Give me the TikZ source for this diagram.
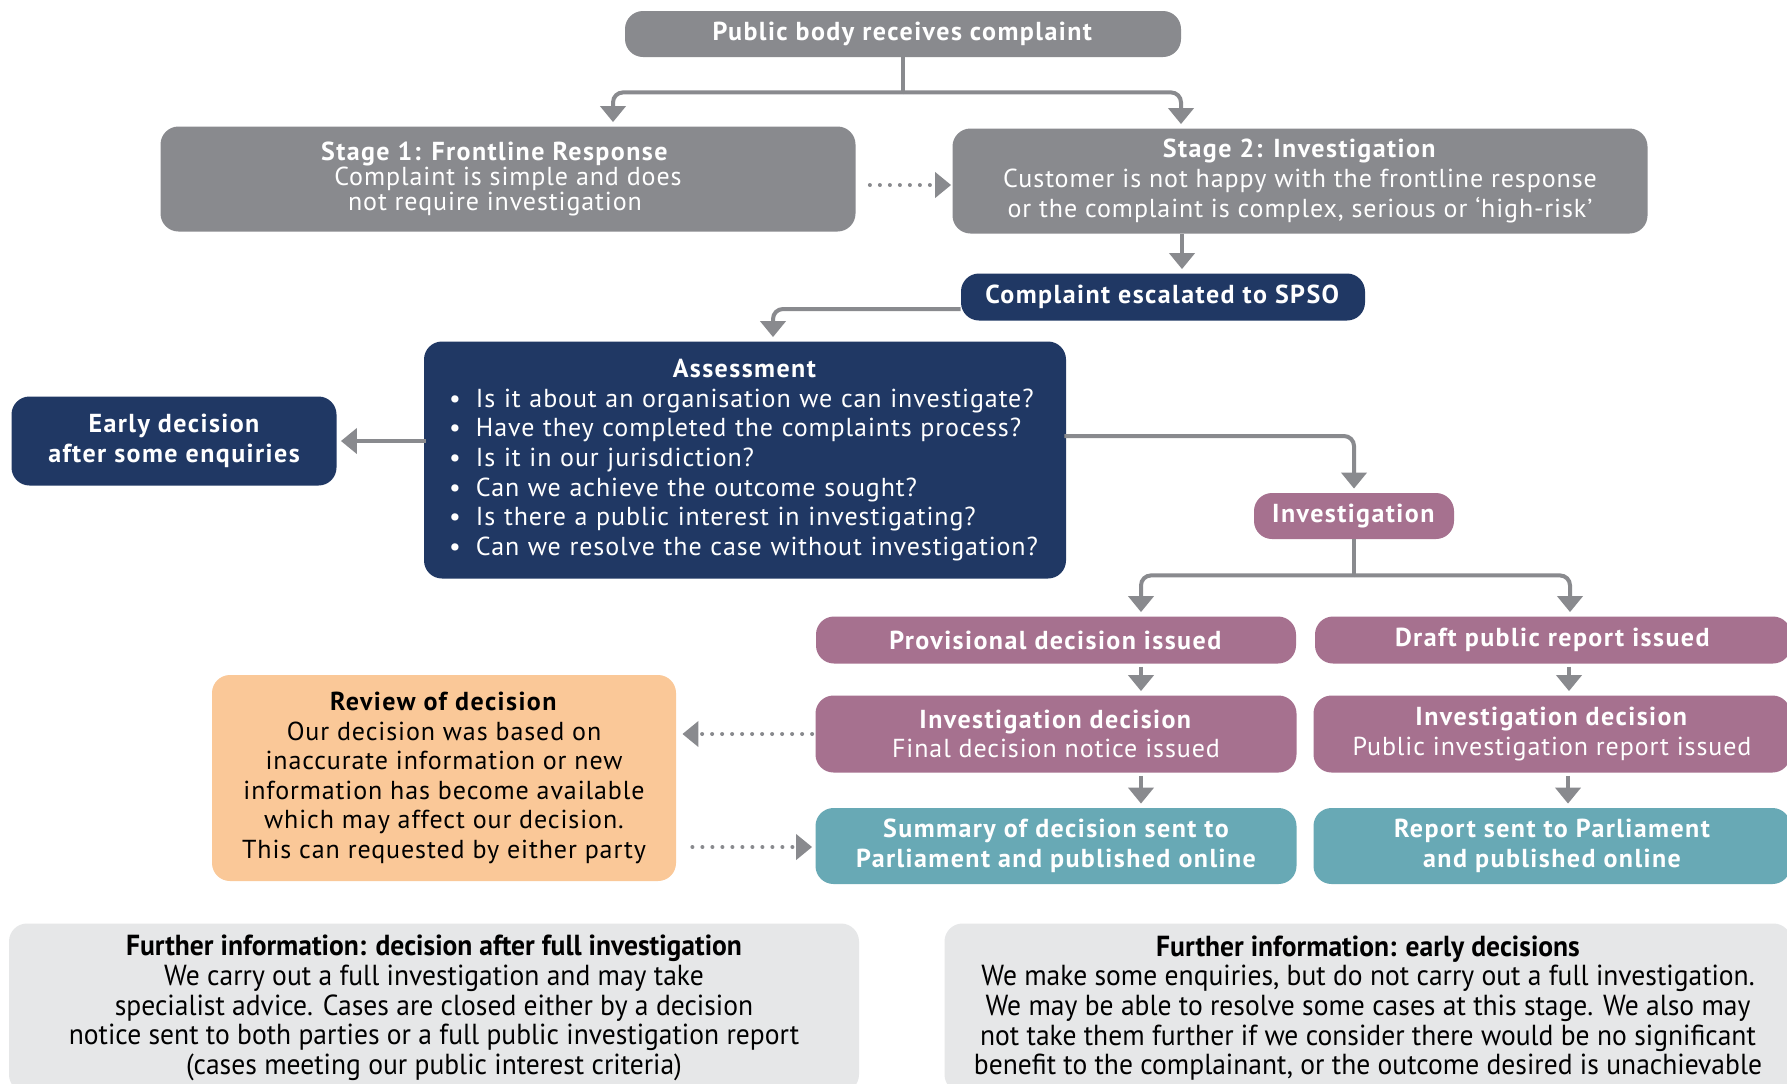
\documentclass[tikz,border=0pt]{standalone}
\usepackage{fontspec}
\setmainfont{PT Sans}[LetterSpace=3.5, BoldFeatures={LetterSpace=5.5}]
\newfontfamily\narrowfont{PT Sans}[FakeStretch=0.95]
\usetikzlibrary{arrows.meta,shapes}
\definecolor{boxgray}{RGB}{137,138,142}
\definecolor{spsoblue}{RGB}{32,56,100}
\definecolor{mauve}{RGB}{166,113,143}
\definecolor{sumteal}{RGB}{104,169,181}
\definecolor{peach}{RGB}{250,200,152}
\definecolor{infogray}{RGB}{230,231,232}
\definecolor{arrowgray}{RGB}{137,138,142}
\tikzstyle{box}=[rounded corners=9pt, inner sep=0pt, align=center, text=white, font=\fontsize{13}{14.8}\selectfont]
\tikzstyle{graybox}=[box, fill=boxgray]
\tikzstyle{bluebox}=[box, fill=spsoblue]
\tikzstyle{mauvebox}=[box, fill=mauve]
\tikzstyle{tealbox}=[box, fill=sumteal]
\tikzstyle{reviewbox}=[box, fill=peach, text=black]
\tikzstyle{infobox}=[box, fill=infogray, text=black, font=\narrowfont\fontsize{14.5}{14.8}\selectfont]
\tikzstyle{edge}=[draw, arrowgray, line width=2pt, rounded corners=5pt, -{Triangle[width=12.5pt,length=8pt]}, shorten >=2pt]
\tikzstyle{trunk}=[draw, arrowgray, line width=2pt]
\tikzstyle{dotedge}=[edge, line cap=round, dash pattern=on 0pt off 5pt]

\begin{document}
\begin{tikzpicture}[x=0.5pt, y=-0.5pt]

    \path[use as bounding box, fill=white] (0,0) rectangle (1787,1083);
    \clip (0,0) rectangle (1787,1083);

    % complaint handling at the public body
    \node[graybox, minimum width=278pt, minimum height=23pt] (top) at (903,34) {\textbf{Public body receives complaint}};
    \node[graybox, minimum width=347.5pt, minimum height=52.5pt, font=\fontsize{13}{12.5}\selectfont] (s1) at (508,179)
        {\textbf{Stage 1: Frontline Response}\hspace*{13pt}\\Complaint is simple and does\hspace*{13pt}\\not require investigation\hspace*{13pt}};
    \node[graybox, minimum width=347.5pt, minimum height=52.5pt] (s2) at (1300,181)
        {\textbf{Stage 2: Investigation}\\Customer is not happy with the frontline response\\or the complaint is complex, serious or ‘high-risk’};

    % SPSO
    \node[bluebox, minimum width=202pt, minimum height=23.5pt] (spso) at (1163,297) {\textbf{Complaint escalated to SPSO}};
    \node[bluebox, minimum width=321pt, minimum height=118.5pt, text width=296pt, align=left] (assess) at (745,460)
        {\makebox[\linewidth]{\textbf{Assessment}}\\
         \makebox[13.5pt][l]{\textbullet}Is it about an organisation we can investigate?\\
         \makebox[13.5pt][l]{\textbullet}Have they completed the complaints process?\\
         \makebox[13.5pt][l]{\textbullet}Is it in our jurisdiction?\\
         \makebox[13.5pt][l]{\textbullet}Can we achieve the outcome sought?\\
         \makebox[13.5pt][l]{\textbullet}Is there a public interest in investigating?\\
         \makebox[13.5pt][l]{\textbullet}Can we resolve the case without investigation?};
    \node[bluebox, minimum width=162.5pt, minimum height=44.5pt, font=\fontsize{13}{14.8}\selectfont\bfseries] (early) at (174,441)
        {Early decision\\after some enquiries};

    % investigation
    \node[mauvebox, minimum width=100pt, minimum height=23pt] (inv) at (1354,516) {\textbf{Investigation}};
    \node[mauvebox, minimum width=240pt, minimum height=23.5pt] (prov) at (1056,640) {\textbf{Provisional decision issued}};
    \node[mauvebox, minimum width=238pt, minimum height=23.5pt] (draft) at (1553,640) {\textbf{Draft public report issued}};
    \node[mauvebox, minimum width=240.5pt, minimum height=38.5pt] (idec1) at (1056,734)
        {\textbf{Investigation decision}\\Final decision notice issued};
    \node[mauvebox, minimum width=238.5pt, minimum height=38.5pt] (idec2) at (1552,734)
        {\textbf{Investigation decision}\\Public investigation report issued};
    \node[tealbox, minimum width=240.5pt, minimum height=38pt, font=\fontsize{13}{14.8}\selectfont\bfseries] (sum1) at (1056,846)
        {Summary of decision sent to\\Parliament and published online};
    \node[tealbox, minimum width=238.5pt, minimum height=38pt, font=\fontsize{13}{14.8}\selectfont\bfseries] (sum2) at (1552,846)
        {Report sent to Parliament\\and published online};

    \node[reviewbox, minimum width=232pt, minimum height=103pt] (review) at (444,778)
        {\textbf{Review of decision}\\Our decision was based on\\inaccurate information or new\\information has become available\\which may affect our decision.\\This can requested by either party};

    % further information
    \node[infobox, minimum width=425pt, minimum height=84.5pt] (fi1) at (434,1008)
        {\textbf{Further information: decision after full investigation}\\We carry out a full investigation and may take\\specialist advice. Cases are closed either by a decision\\notice sent to both parties or a full public investigation report\\(cases meeting our public interest criteria)};
    \node[infobox, minimum width=423.5pt, minimum height=84.5pt] (fi2) at (1368,1008)
        {\textbf{Further information: early decisions}\\We make some enquiries, but do not carry out a full investigation.\\We may be able to resolve some cases at this stage. We also may\\not take them further if we consider there would be no significant\\benefit to the complainant, or the outcome desired is unachievable};

    % connectors
    \coordinate (fork1) at ([yshift=-17.5pt]top.south);
    \coordinate (fork2) at ([yshift=-18pt]inv.south);
    \path[trunk] (top.south) -- (fork1);
    \path[edge] (fork1) -| ([xshift=52.5pt]s1.north);
    \path[edge] (fork1) -| ([xshift=-59.5pt]s2.north);
    \path[dotedge, shorten <=7pt, shorten >=0.5pt] ([yshift=-3pt]s1.east) -- ([yshift=-3pt]s1.east -| s2.west);

    \path[edge] ([xshift=-59pt]s2.south) -- ([xshift=-59pt]s2.south |- spso.north);
    \path[edge] ([yshift=-6pt]spso.west) -| ([xshift=14pt]assess.north);
    \path[edge, shorten <=-1pt] ([yshift=9.5pt]assess.west) -- (early.east);
    \path[edge, shorten <=-1pt] ([yshift=12pt]assess.east) -| (inv.north);

    \path[trunk] (inv.south) -- (fork2);
    \path[edge] (fork2) -| ([xshift=42.5pt]prov.north);
    \path[edge] (fork2) -| ([xshift=8.5pt]draft.north);

    \foreach \source/\dest/\shift in {prov/idec1/42.5pt, idec1/sum1/42.5pt, draft/idec2/8pt, idec2/sum2/8pt}
        \path[edge, shorten <=1.5pt] ([xshift=\shift]\source.south) -- ([xshift=\shift]\source.south |- \dest.north);

    \path[dotedge, shorten <=1.5pt, shorten >=3pt] (idec1.west) -- (idec1.west -| review.east);
    \path[dotedge, shorten <=8pt, shorten >=1.5pt] ([yshift=-34.5pt]review.east) -- ([yshift=-34.5pt]review.east -| sum1.west);

\end{tikzpicture}
\end{document}
